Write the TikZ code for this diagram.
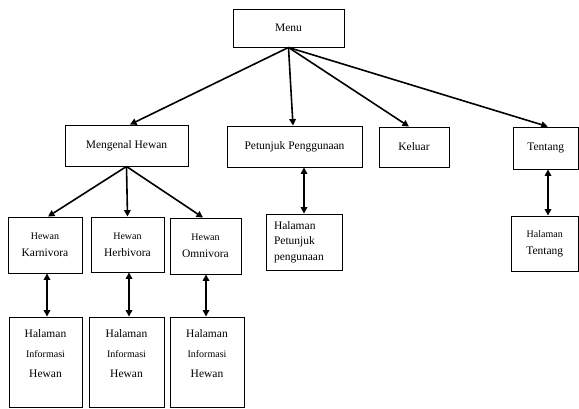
\documentclass[tikz,border=0pt]{standalone}
\usepackage{fontspec}
\setmainfont{Liberation Serif}
\usetikzlibrary{arrows.meta}
\newcommand\smtxt[1]{{\fontsize{10}{11}\selectfont #1}}
\begin{document}
\begin{tikzpicture}[x=1pt,y=-1pt,
  box/.style={draw,line width=0.9pt,inner sep=0pt,align=center,font=\fontsize{11.5}{14}\selectfont},
  arr/.style={line width=1.6pt,-{Triangle[length=6.5pt,width=6.5pt]}},
  darr/.style={line width=1.6pt,{Triangle[length=6.5pt,width=6.5pt]}-{Triangle[length=6.5pt,width=6.5pt]}}]
\useasboundingbox (0,0) rectangle (579,408);
% level 1
\node[box,minimum width=111,minimum height=38] (menu) at (288.5,28) {Menu};
% level 2
\node[box,minimum width=123,minimum height=41] (mh) at (126.5,145.5) {Mengenal Hewan};
\node[box,minimum width=135,minimum height=41] (pp) at (294.5,146.5) {Petunjuk Penggunaan};
\node[box,minimum width=70,minimum height=40] (kel) at (414,147) {Keluar};
\node[box,minimum width=65.5,minimum height=42] (ten) at (545.75,148) {Tentang};
% level 3
\node[box,minimum width=74,minimum height=56] (hk) at (45,245) {\smtxt{Hewan}\\[3pt]Karnivora};
\node[box,minimum width=73,minimum height=55] (hh) at (127.5,244.5) {\smtxt{Hewan}\\[3pt]Herbivora};
\node[box,minimum width=71,minimum height=56] (ho) at (205.5,246) {\smtxt{Hewan}\\[3pt]Omnivora};
\node[box,align=left,text width=60,inner xsep=8,minimum height=56] (hp) at (304,242) {Halaman\\[1.5pt]Petunjuk\\[1.5pt]pengunaan};
\node[box,minimum width=67.5,minimum height=55] (ht) at (544.75,243.5) {\smtxt{Halaman}\\[3pt]Tentang};
% level 4
\node[box,minimum width=73,minimum height=90.5] (ik) at (45.5,362.25) {Halaman\\[6pt]\smtxt{Informasi}\\[6pt]Hewan\\[4pt]};
\node[box,minimum width=75,minimum height=90.5] (ih) at (126.5,362.25) {Halaman\\[6pt]\smtxt{Informasi}\\[6pt]Hewan\\[4pt]};
\node[box,minimum width=74,minimum height=90.5] (io) at (207,362.25) {Halaman\\[6pt]\smtxt{Informasi}\\[6pt]Hewan\\[4pt]};
% connectors
\draw[arr] (menu.south) -- ([xshift=3.5]mh.north);
\draw[arr] (menu.south) -- ([xshift=-1.5]pp.north);
\draw[arr] (menu.south) -- ([xshift=-5]kel.north);
\draw[arr] (menu.south) -- ([xshift=2]ten.north);
\draw[arr] (mh.south) -- ([xshift=3]hk.north);
\draw[arr] (mh.south) -- (hh.north);
\draw[arr] (mh.south) -- ([xshift=-2.5]ho.north);
\draw[darr] ([xshift=2]hk.south) -- ([xshift=1.5]ik.north);
\draw[darr] ([xshift=1.5]hh.south) -- ([xshift=2.5]ih.north);
\draw[darr] ([xshift=0.5]ho.south) -- ([xshift=-1]io.north);
\draw[darr] ([xshift=9.5]pp.south) -- (hp.north);
\draw[darr] ([xshift=2.25]ten.south) -- ([xshift=3.25]ht.north);
\end{tikzpicture}
\end{document}
